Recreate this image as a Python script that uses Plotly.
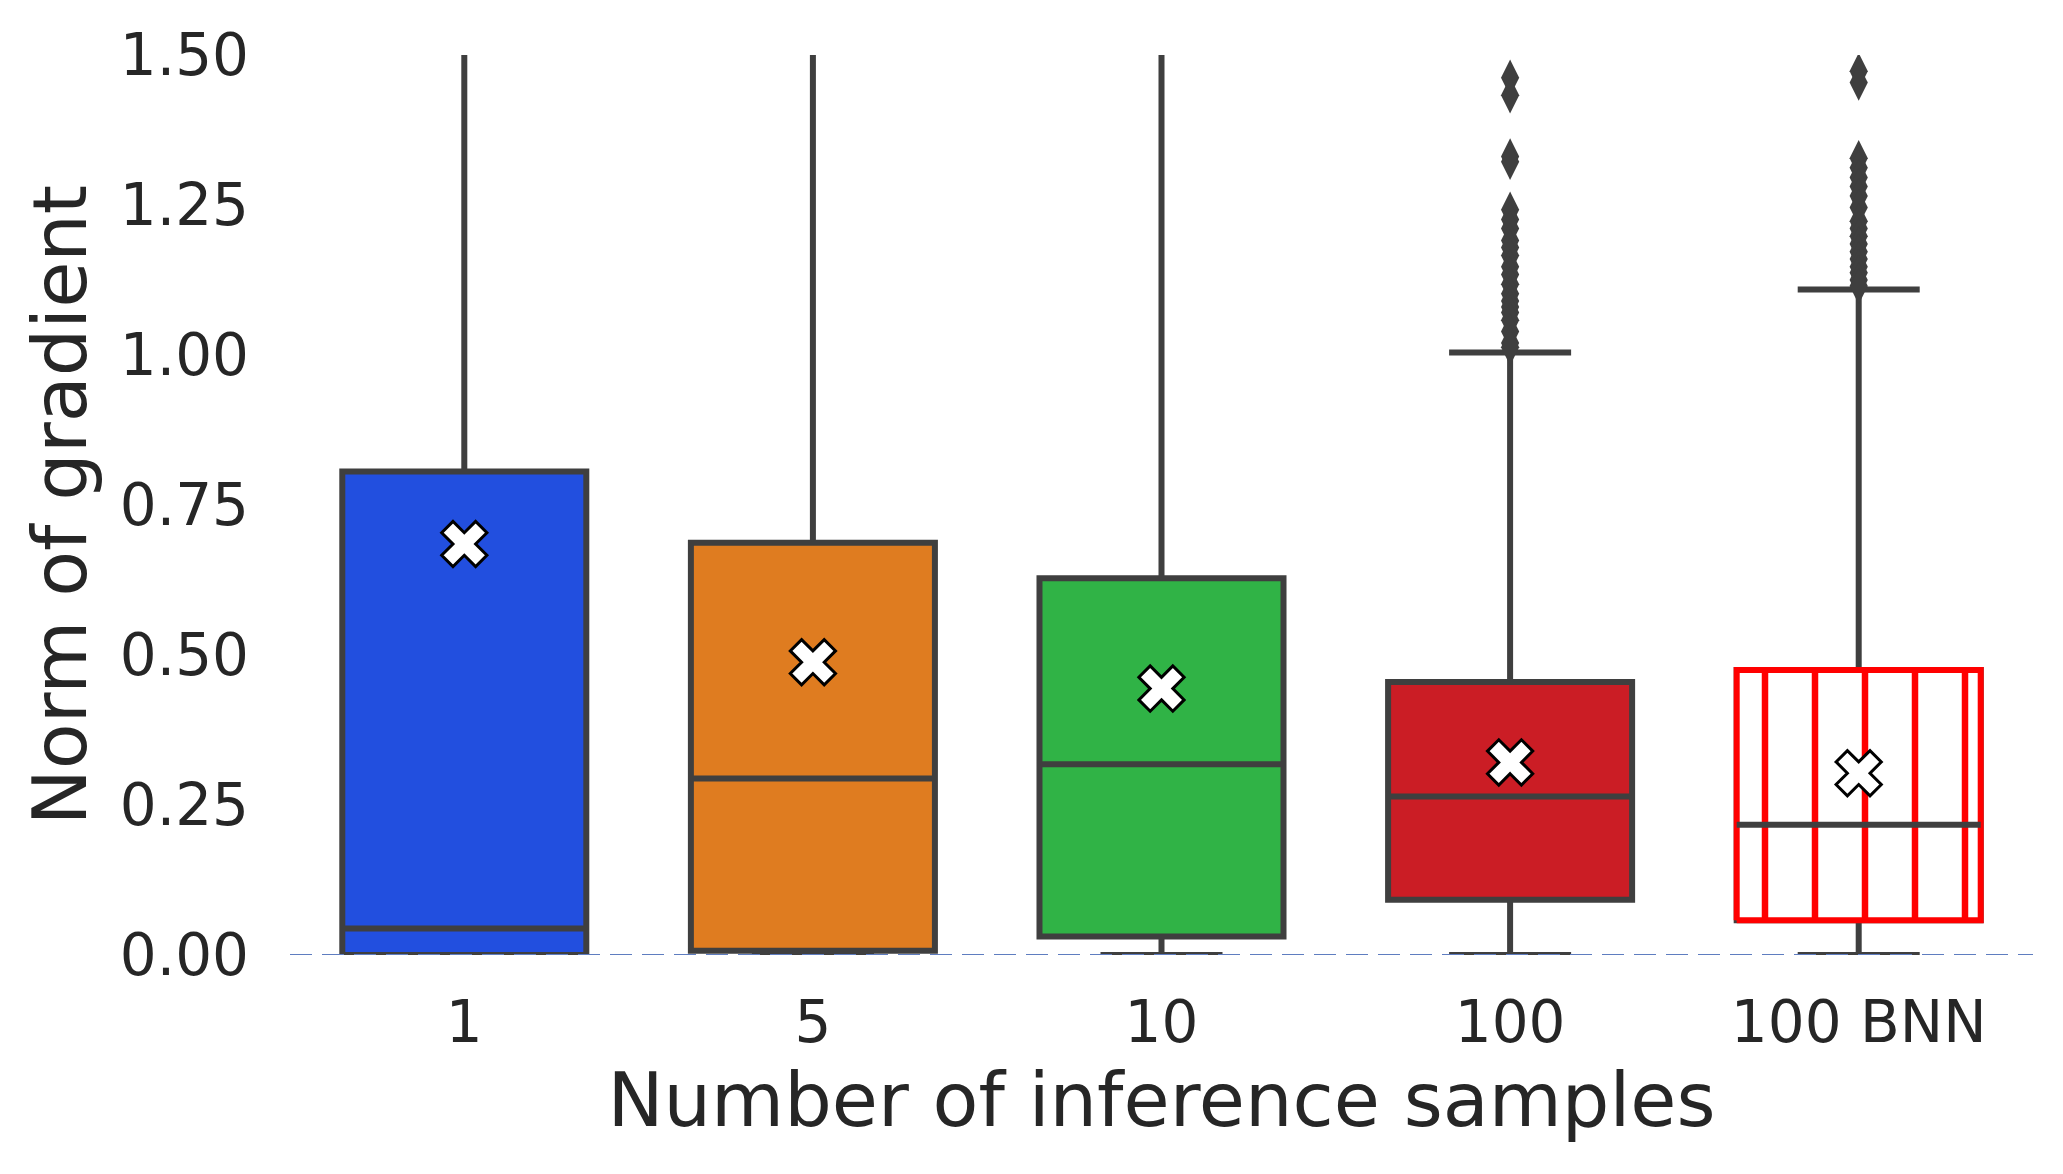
import plotly.graph_objects as go

### values

labels = ["1", "5", "10", "100", "100 BNN"]
q1 = [0.0, 0.007, 0.031, 0.092, 0.058]
medians = [0.044, 0.294, 0.318, 0.264, 0.217]
q3 = [0.806, 0.687, 0.628, 0.455, 0.475]
lower_whisker = [0.0, 0.0, 0.0, 0.0, 0.0]
upper_whisker = [2.0, 1.70, 1.55, 1.004, 1.109]
means = [0.685, 0.488, 0.444, 0.321, 0.303]

outliers_100 = [1.462, 1.433, 1.331, 1.322, 1.242, 1.226, 1.211, 1.191, 1.179, 1.166,
                1.147, 1.134, 1.118, 1.102, 1.090, 1.080, 1.071, 1.058, 1.039, 1.020, 1.013]
outliers_bnn = [1.473, 1.454, 1.328, 1.312, 1.296, 1.281, 1.265, 1.246, 1.223, 1.211,
                1.198, 1.185, 1.172, 1.160, 1.147, 1.137, 1.125, 1.115]

colors = ["#224FDF", "#DF7C20", "#30B346", "#CB1D25", "white"]
grey = "#3f3f3f"
text_col = "#262626"
box_w = 0.7

fig = go.Figure()

for i in range(len(labels)):
    fig.add_trace(go.Box(
        x=[i], q1=[q1[i]], median=[medians[i]], q3=[q3[i]],
        lowerfence=[lower_whisker[i]], upperfence=[upper_whisker[i]],
        width=box_w, whiskerwidth=0.5, fillcolor=colors[i],
        line=dict(color=grey, width=6), boxpoints=False,
        showlegend=False, hoverinfo="skip"))

# hatched red box for the BNN case
b = len(labels) - 1
fig.add_trace(go.Scatter(
    x=[b - box_w / 2, b + box_w / 2, b + box_w / 2, b - box_w / 2, b - box_w / 2],
    y=[q1[b], q1[b], q3[b], q3[b], q1[b]],
    mode="lines", fill="toself", fillcolor="white",
    fillpattern=dict(shape="|", fgcolor="#ff0000", fgopacity=1, bgcolor="white",
                     size=50, solidity=0.13),
    line=dict(color="#ff0000", width=6), showlegend=False, hoverinfo="skip"))
fig.add_trace(go.Scatter(
    x=[b - box_w / 2, b + box_w / 2], y=[medians[b], medians[b]],
    mode="lines", line=dict(color=grey, width=6), showlegend=False, hoverinfo="skip"))

# outliers
fig.add_trace(go.Scatter(
    x=[3] * len(outliers_100) + [b] * len(outliers_bnn),
    y=outliers_100 + outliers_bnn, mode="markers",
    marker=dict(symbol="diamond-tall", size=26, color=grey, line=dict(width=0)),
    showlegend=False, hoverinfo="skip"))

# means
fig.add_trace(go.Scatter(
    x=list(range(len(labels))), y=means, mode="markers",
    marker=dict(symbol="x", size=40, color="white", line=dict(color="black", width=3)),
    showlegend=False, hoverinfo="skip"))

fig.add_shape(type="line", xref="paper", x0=0, x1=1, yref="y", y0=0, y1=0,
              line=dict(color="rgb(95,125,192)", width=2, dash="22px,10px"), layer="above")

fig.update_xaxes(range=[-0.5, 4.5], tickvals=list(range(len(labels))), ticktext=labels,
                 showgrid=False, zeroline=False, showline=False, ticks="", automargin=False,
                 ticklabelstandoff=28, tickfont=dict(size=58, color=text_col),
                 title=dict(text="Number of inference samples", font=dict(size=75, color=text_col), standoff=17))
fig.update_yaxes(range=[0, 1.5], tickvals=[0, 0.25, 0.5, 0.75, 1.0, 1.25, 1.5], tickformat=".2f",
                 showgrid=False, zeroline=False, showline=False, ticks="", automargin=False,
                 ticklabelstandoff=40, tickfont=dict(size=58, color=text_col),
                 title=dict(text="Norm of gradient", font=dict(size=75, color=text_col), standoff=8))
# page body keeps an 8px margin, so the figure is 8px smaller and margins shifted
fig.update_layout(width=2055, height=1166,
                  margin=dict(l=282, r=30, t=47, b=219),
                  plot_bgcolor="white", paper_bgcolor="white",
                  font=dict(family="DejaVu Sans", color=text_col),
                  showlegend=False)

fig.write_html("out.html")
